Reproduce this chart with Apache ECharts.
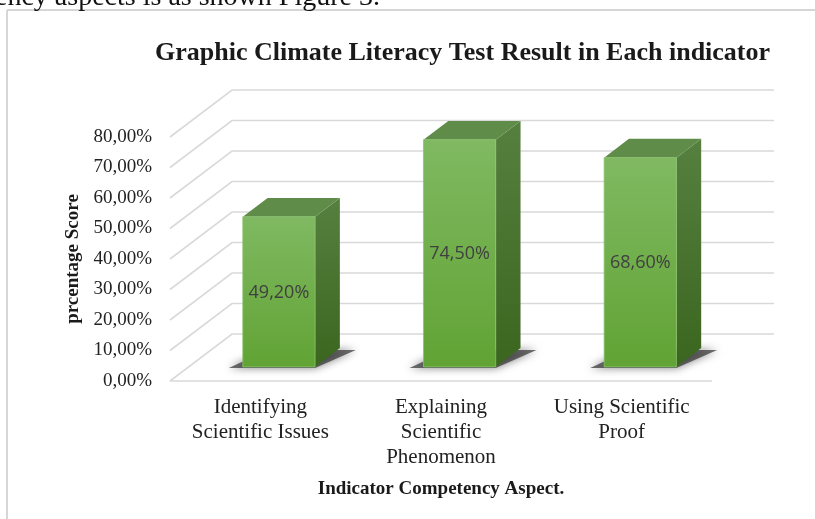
<!DOCTYPE html>
<html>
<head>
<meta charset="utf-8">
<script src="https://cdn.jsdelivr.net/npm/echarts@6/dist/echarts.min.js"></script>
<style>
html,body{margin:0;padding:0;background:#fff;}
#chart{width:815px;height:519px;}
</style>
</head>
<body>
<div id="chart"></div>
<script>
const categories = ['Identifying\nScientific Issues', 'Explaining\nScientific\nPhenomenon', 'Using Scientific\nProof'];
const scores = [49.2, 74.5, 68.6];
const yTicks = [0, 10, 20, 30, 40, 50, 60, 70, 80];
const titleText = 'Graphic Climate Literacy Test Result in Each indicator';
const yTitle = 'prcentage Score';
const xTitle = 'Indicator Competency Aspect.';
const pageText = 'ency aspects is as shown Figure 3.';

const DEPTH = [62, -47];
const SERIF = '"Liberation Serif", "Times New Roman", serif';
const fmt = v => v.toFixed(2).replace('.', ',') + '%';

const chart = echarts.init(document.getElementById('chart'));

function renderWalls(params, api) {
  const cs = params.coordSys;
  const v = api.value(1);
  const y = api.coord([0, v])[1];
  const left = cs.x, right = cs.x + cs.width;
  const style = { stroke: '#d9d9d9', lineWidth: 1.6, fill: null };
  const children = [{
    type: 'polyline',
    shape: { points: [[left, y], [left + DEPTH[0], y + DEPTH[1]], [right + DEPTH[0], y + DEPTH[1]]] },
    style: style
  }];
  if (v === 0) {
    children.push({ type: 'line', shape: { x1: left, y1: y, x2: right, y2: y }, style: style });
  }
  return { type: 'group', children: children };
}

function renderBar(params, api) {
  const i = api.value(0), v = api.value(1);
  const top = api.coord([i, v]);
  const base = api.coord([i, 0]);
  const bw = api.size([1, 0])[0] * 0.4;
  const f0 = 0.3, f1 = 0.4;
  const xL = top[0] - bw / 2 + DEPTH[0] * f0;
  const xR = xL + bw;
  const yT = top[1] + DEPTH[1] * f0;
  const yB = base[1] + DEPTH[1] * f0;
  const dx = DEPTH[0] * f1, dy = DEPTH[1] * f1;
  return {
    type: 'group',
    children: [
      { type: 'polygon',
        shape: { points: [[xL - 14, yB + 1], [xR, yB + 1], [xR + dx + 16, yB + dy + 2], [xL + dx, yB + dy + 2]] },
        style: { fill: 'rgba(50,50,50,0.7)', shadowBlur: 8, shadowColor: 'rgba(0,0,0,0.7)' } },
      { type: 'polygon',
        shape: { points: [[xR, yT], [xR + dx, yT + dy], [xR + dx, yB + dy], [xR, yB]] },
        style: { fill: new echarts.graphic.LinearGradient(0, 0, 0, 1, [
          { offset: 0, color: '#56803f' }, { offset: 1, color: '#3b661f' }]) } },
      { type: 'polygon',
        shape: { points: [[xL, yT], [xL + dx, yT + dy], [xR + dx, yT + dy], [xR, yT]] },
        style: { fill: '#5f8c48' } },
      { type: 'rect',
        shape: { x: xL, y: yT, width: bw, height: yB - yT },
        style: { fill: new echarts.graphic.LinearGradient(0, 0, 0, 1, [
          { offset: 0, color: '#80b962' }, { offset: 1, color: '#61a334' }]),
          stroke: '#8cc46e', lineWidth: 0.8 } },
      { type: 'text',
        style: { text: fmt(v), x: xL + bw / 2, y: (yT + yB) / 2 + 1, align: 'center', verticalAlign: 'middle',
          fill: '#404040', font: '18px "Open Sans", sans-serif' } }
    ]
  };
}

chart.setOption({
  animation: false,
  title: {
    text: titleText,
    left: 150, top: 35,
    textStyle: { fontFamily: SERIF, fontWeight: 'bold', fontSize: 26, color: '#1a1a1a' }
  },
  graphic: [
    { type: 'line', shape: { x1: 7, y1: 10, x2: 815, y2: 10 }, style: { stroke: '#d6d6d6', lineWidth: 2 } },
    { type: 'line', shape: { x1: 7, y1: 10, x2: 7, y2: 519 }, style: { stroke: '#d6d6d6', lineWidth: 2 } },
    { type: 'text', left: -5, top: -16, style: { text: pageText, font: '28px ' + SERIF, fill: '#111' } }
  ],
  grid: { left: 170, right: 103, top: 137, bottom: 138 },
  xAxis: {
    type: 'category',
    data: categories,
    axisLine: { show: false },
    axisTick: { show: false },
    axisLabel: { margin: 14, fontFamily: SERIF, fontSize: 21, lineHeight: 25, color: '#222' },
    name: xTitle,
    nameLocation: 'middle',
    nameGap: 99,
    nameTextStyle: { fontFamily: SERIF, fontWeight: 'bold', fontSize: 19, color: '#1a1a1a' }
  },
  yAxis: {
    type: 'value',
    min: 0, max: 80, interval: 10,
    axisLine: { show: false },
    axisTick: { show: false },
    splitLine: { show: false },
    axisLabel: { margin: 18, formatter: fmt, fontFamily: SERIF, fontSize: 19, color: '#222' },
    name: yTitle,
    nameLocation: 'middle',
    nameGap: 86,
    nameRotate: 90,
    nameTextStyle: { fontFamily: SERIF, fontWeight: 'bold', fontSize: 19, color: '#1a1a1a' }
  },
  series: [
    { type: 'custom', renderItem: renderWalls, data: yTicks.map(v => [0, v]), z: 1, silent: true },
    { type: 'custom', renderItem: renderBar, data: scores.map((v, i) => [i, v]), z: 3 }
  ]
});
</script>
</body>
</html>
